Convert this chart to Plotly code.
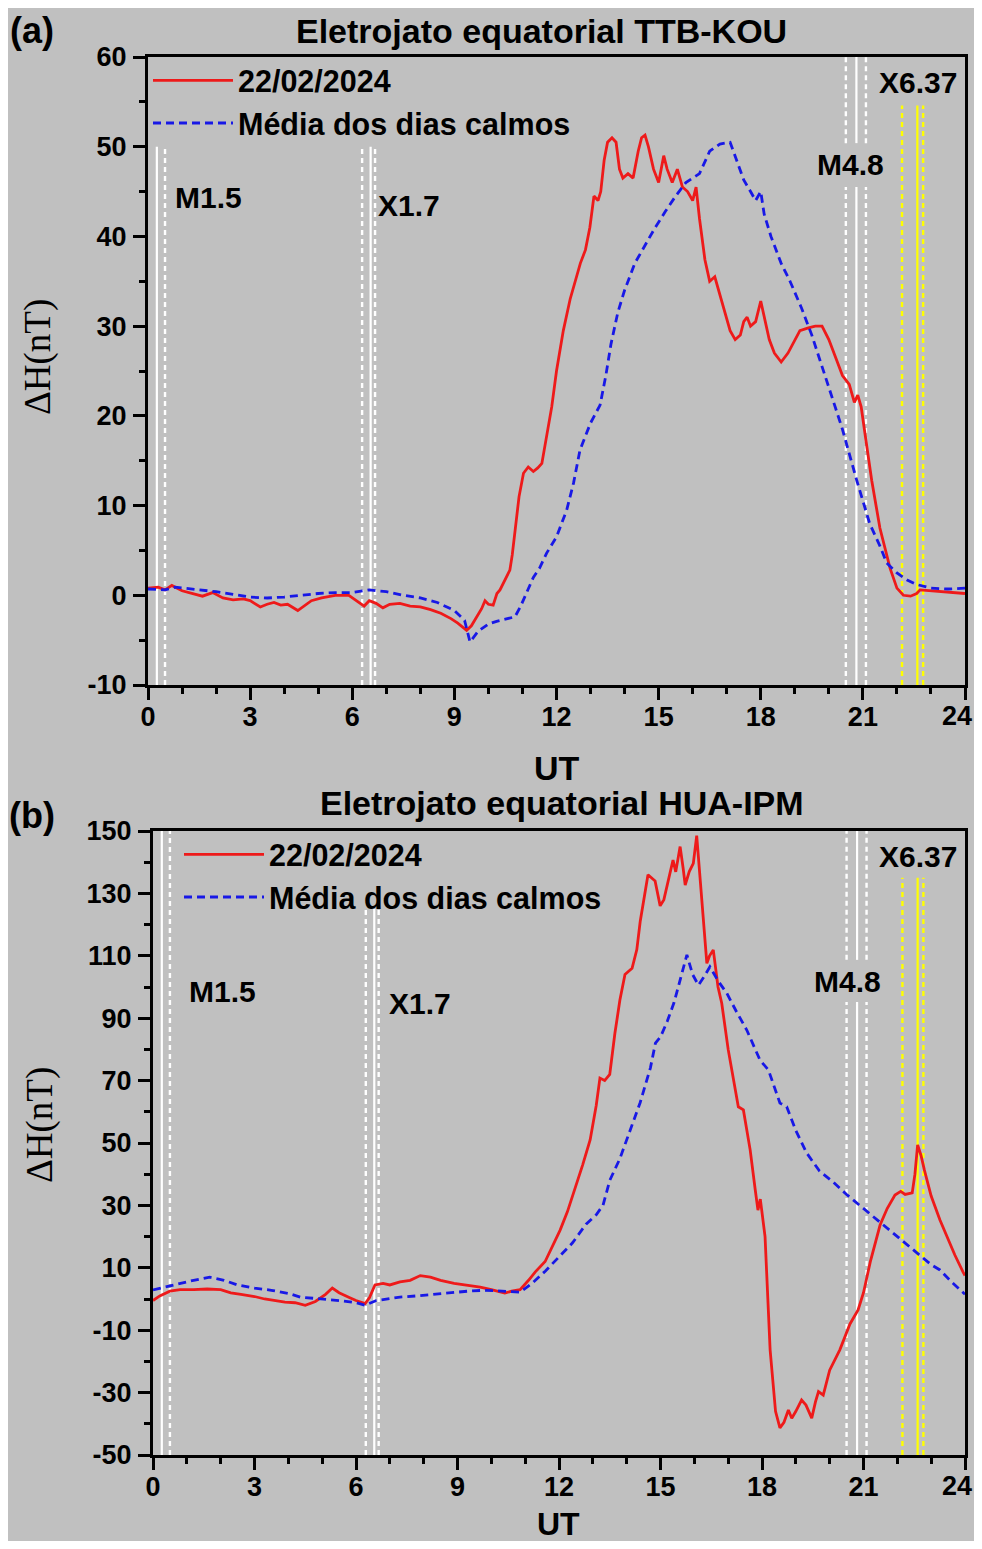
import plotly.graph_objects as go

# ---------------- DATA ----------------
# Panel (a) TTB-KOU, 22/02/2024
hours_day_a = [0.0, 0.3, 0.5, 0.7, 1.0, 1.3, 1.6, 1.9, 2.2, 2.5, 2.8, 3.0, 3.3, 3.5, 3.7, 3.9, 4.1, 4.4, 4.6, 4.8,
               5.1, 5.5, 5.9, 6.1, 6.35, 6.5, 6.7, 6.9, 7.1, 7.4, 7.7, 8.0, 8.3, 8.6, 8.9, 9.1, 9.36, 9.5, 9.66, 9.8,
               9.9, 10.0, 10.14, 10.25, 10.34, 10.5, 10.63, 10.7, 10.78, 10.9, 11.03, 11.17, 11.32, 11.45, 11.57, 11.71, 11.86, 12.0, 12.2, 12.4,
               12.54, 12.7, 12.85, 12.98, 13.1, 13.22, 13.3, 13.4, 13.5, 13.63, 13.75, 13.85, 13.95, 14.1, 14.25, 14.4, 14.5, 14.6, 14.7, 14.85,
               15.0, 15.15, 15.25, 15.4, 15.55, 15.7, 15.85, 16.0, 16.1, 16.2, 16.36, 16.5, 16.65, 16.8, 16.95, 17.1, 17.25, 17.4, 17.5, 17.6,
               17.7, 17.85, 18.0, 18.1, 18.25, 18.4, 18.6, 18.8, 19.0, 19.15, 19.4, 19.6, 19.8, 20.0, 20.2, 20.4, 20.6, 20.75, 20.85, 20.95,
               21.1, 21.26, 21.5, 21.8, 22.0, 22.19, 22.4, 22.58, 22.68, 23.0, 23.5, 23.95, 24.0]
dH_day_a = [0.8, 0.9, 0.6, 1.1, 0.5, 0.2, -0.1, 0.3, -0.3, -0.5, -0.4, -0.6, -1.3, -1.0, -0.8, -1.1, -1.0, -1.7, -1.1, -0.6,
            -0.3, 0.0, 0.0, -0.5, -1.2, -0.6, -0.9, -1.4, -1.0, -0.9, -1.2, -1.3, -1.6, -2.0, -2.6, -3.1, -3.9, -3.4, -2.4, -1.5,
            -0.6, -1.0, -1.1, 0.2, 0.6, 1.8, 2.8, 4.5, 6.9, 11.0, 13.6, 14.3, 13.8, 14.2, 14.7, 17.7, 21.0, 25.0, 29.5, 33.0,
            35.0, 37.0, 38.5, 41.0, 44.5, 44.0, 45.0, 48.5, 50.5, 51.0, 50.5, 47.5, 46.5, 47.0, 46.5, 49.5, 51.0, 51.3, 50.0, 47.5,
            46.0, 49.0, 47.5, 46.0, 47.5, 45.5, 45.0, 44.0, 45.5, 42.0, 37.4, 35.0, 35.5, 33.5, 31.5, 29.5, 28.5, 29.0, 30.5, 31.0,
            30.0, 30.5, 32.8, 31.0, 28.5, 27.0, 26.0, 27.0, 28.5, 29.5, 29.8, 30.0, 30.0, 28.5, 26.5, 24.5, 23.5, 21.5, 22.3, 21.0,
            17.0, 12.8, 7.5, 3.0, 0.8, 0.0, -0.1, 0.2, 0.6, 0.5, 0.3, 0.2, 0.2]

hours_quiet_a = [0.0, 0.5, 0.8, 1.5, 2.0, 2.5, 3.0, 3.5, 4.0, 4.5, 5.0, 5.5, 6.0, 6.5, 7.0, 7.5, 8.0, 8.5, 9.0, 9.3,
                 9.46, 9.7, 10.0, 10.24, 10.5, 10.78, 10.95, 11.12, 11.32, 11.5, 11.71, 12.0, 12.3, 12.5, 12.69, 13.0, 13.28, 13.45, 13.6, 13.8,
                 14.0, 14.3, 14.6, 14.9, 15.2, 15.5, 15.8, 16.0, 16.2, 16.5, 16.8, 17.1, 17.3, 17.5, 17.7, 17.85, 18.0, 18.1, 18.3, 18.6,
                 18.86, 19.2, 19.5, 19.8, 20.1, 20.4, 20.82, 21.2, 21.5, 21.7, 22.0, 22.3, 22.58, 23.0, 23.5, 23.95, 24.0]
dH_quiet_a = [0.7, 0.6, 0.9, 0.6, 0.4, 0.1, -0.2, -0.3, -0.2, 0.0, 0.2, 0.3, 0.3, 0.6, 0.4, 0.0, -0.3, -0.8, -1.7, -2.8,
              -5.2, -4.0, -3.2, -2.9, -2.7, -2.4, -1.2, 0.2, 2.0, 3.0, 4.7, 6.5, 9.5, 12.5, 16.2, 19.2, 21.2, 24.5, 28.0, 31.5,
              34.0, 37.0, 39.0, 41.0, 42.8, 44.5, 46.0, 46.5, 47.0, 49.5, 50.3, 50.5, 48.5, 46.3, 45.0, 44.0, 45.0, 42.5, 40.0, 37.0,
              35.0, 32.0, 29.0, 25.5, 22.0, 18.5, 12.8, 8.0, 5.5, 3.6, 2.5, 1.7, 1.2, 0.8, 0.7, 0.8, 0.8]

# Panel (b) HUA-IPM, 22/02/2024
hours_day_b = [0.0, 0.2, 0.5, 0.8, 1.2, 1.6, 2.0, 2.3, 2.6, 3.0, 3.3, 3.6, 3.9, 4.2, 4.5, 4.8, 5.1, 5.3, 5.5, 5.8,
               6.0, 6.27, 6.4, 6.56, 6.8, 7.0, 7.3, 7.6, 7.9, 8.2, 8.5, 8.9, 9.3, 9.67, 10.0, 10.4, 10.6, 10.85, 11.1, 11.3,
               11.59, 11.8, 12.03, 12.25, 12.47, 12.7, 12.92, 13.1, 13.21, 13.35, 13.5, 13.65, 13.8, 13.95, 14.16, 14.3, 14.4, 14.63, 14.84, 14.99,
               15.1, 15.22, 15.37, 15.45, 15.58, 15.67, 15.73, 15.85, 15.97, 16.07, 16.2, 16.37, 16.45, 16.56, 16.7, 16.81, 17.0, 17.3, 17.45, 17.65,
               17.8, 17.88, 17.95, 18.09, 18.24, 18.4, 18.53, 18.65, 18.78, 18.88, 19.0, 19.17, 19.3, 19.47, 19.58, 19.67, 19.81, 20.0, 20.3, 20.6,
               20.84, 21.0, 21.2, 21.49, 21.7, 21.93, 22.1, 22.23, 22.44, 22.52, 22.6, 22.7, 22.8, 23.0, 23.26, 23.5, 23.7, 23.94, 24.0]
dH_day_b = [-0.5, 1.0, 2.5, 3.0, 3.0, 3.2, 3.0, 2.0, 1.5, 0.8, 0.0, -0.5, -1.0, -1.2, -2.0, -0.8, 1.5, 3.5, 2.0, 0.5,
            -0.5, -1.5, 0.5, 4.5, 5.0, 4.5, 5.5, 6.0, 7.5, 7.0, 6.0, 5.0, 4.5, 3.8, 3.0, 1.9, 2.5, 3.0, 6.0, 8.7,
            12.0, 17.0, 22.0, 28.0, 35.0, 43.0, 51.0, 62.0, 70.8, 70.0, 72.0, 85.0, 95.8, 104.0, 106.0, 112.0, 121.0, 136.0, 134.0, 126.0,
            128.0, 134.0, 140.7, 136.9, 145.0, 138.0, 132.7, 137.0, 139.6, 148.5, 130.0, 107.6, 110.0, 111.9, 100.0, 94.8, 80.0, 61.6, 60.6, 47.8,
            35.0, 28.5, 32.0, 20.0, -16.3, -36.0, -41.3, -39.5, -35.6, -38.2, -36.0, -32.4, -34.0, -38.2, -33.0, -29.7, -30.8, -22.8, -16.3, -8.0,
            -3.5, 2.0, 11.9, 23.7, 29.0, 33.3, 34.5, 33.5, 34.0, 40.0, 49.4, 46.0, 41.3, 33.0, 25.3, 19.0, 14.1, 8.7, 7.5]

hours_quiet_b = [0.0, 0.4, 0.8, 1.2, 1.68, 2.1, 2.5, 3.0, 3.5, 4.0, 4.35, 5.0, 5.5, 6.0, 6.27, 6.6, 7.0, 7.3, 7.8, 8.3,
                 8.78, 9.3, 9.8, 10.3, 10.85, 11.2, 11.6, 12.0, 12.4, 12.8, 13.1, 13.3, 13.5, 13.8, 14.1, 14.4, 14.7, 14.85, 15.0, 15.2,
                 15.4, 15.6, 15.78, 15.95, 16.12, 16.3, 16.46, 16.7, 16.96, 17.25, 17.55, 17.94, 18.19, 18.53, 18.73, 19.0, 19.32, 19.7, 20.1, 20.5,
                 21.0, 21.5, 22.0, 22.5, 23.0, 23.26, 23.6, 24.0]
dH_quiet_b = [2.9, 4.0, 5.0, 6.0, 7.0, 6.0, 4.5, 3.5, 2.8, 1.8, 0.6, 0.0, -0.5, -1.2, -2.0, -0.5, 0.2, 0.6, 1.0, 1.5,
              2.2, 2.5, 2.8, 2.5, 2.2, 5.0, 9.0, 13.5, 18.0, 24.0, 27.0, 30.0, 38.0, 45.0, 54.0, 63.0, 74.0, 82.0, 84.0, 89.0,
              95.0, 103.0, 110.3, 104.0, 100.6, 103.5, 106.5, 102.0, 98.0, 92.0, 86.2, 76.6, 73.4, 62.8, 61.6, 54.0, 46.8, 41.0, 37.5, 33.5,
              29.0, 24.5, 20.0, 15.5, 11.0, 9.3, 5.5, 1.5]

# Solar flares (UT hours): peak (solid line), start / end (dashed lines)
flare_names = ["M1.5", "X1.7", "M4.8", "X6.37"]
flare_peak = [0.26, 6.54, 20.81, 22.6]
flare_start = [None, 6.29, 20.5, 22.15]
flare_end = [0.5, 6.67, 21.09, 22.77]

x_ticks = [0, 3, 6, 9, 12, 15, 18, 21, 24]
y_ticks_a = [-10, 0, 10, 20, 30, 40, 50, 60]
y_ticks_b = [-50, -30, -10, 10, 30, 50, 70, 90, 110, 130, 150]

legend_day = "22/02/2024"
legend_quiet = "Média dos dias calmos"
title_a = "Eletrojato equatorial TTB-KOU"
title_b = "Eletrojato equatorial HUA-IPM"

# ---------------- STYLE ----------------
BG = "#C0C0C0"
RED = "#EE1A1A"
BLUE = "#1818E6"
WHITE = "#FFFFFF"
YELLOW = "#FFFF00"
FONT = "Liberation Sans"

# figure is placed inside the page's 8 px body margin
W, H = 966, 1533
OFF = 8


def px(xp, yp):
    """page pixel -> paper fraction"""
    return (xp - OFF) / W, 1 - (yp - OFF) / H


fig = go.Figure()

fig.add_trace(go.Scatter(x=hours_day_a, y=dH_day_a, mode="lines", name=legend_day,
                         line=dict(color=RED, width=2.8), xaxis="x", yaxis="y", legend="legend"))
fig.add_trace(go.Scatter(x=hours_quiet_a, y=dH_quiet_a, mode="lines", name=legend_quiet,
                         line=dict(color=BLUE, width=2.8, dash="8px,5px"), xaxis="x", yaxis="y", legend="legend"))
fig.add_trace(go.Scatter(x=hours_day_b, y=dH_day_b, mode="lines", name=legend_day,
                         line=dict(color=RED, width=2.8), xaxis="x2", yaxis="y2", legend="legend2"))
fig.add_trace(go.Scatter(x=hours_quiet_b, y=dH_quiet_b, mode="lines", name=legend_quiet,
                         line=dict(color=BLUE, width=2.8, dash="8px,5px"), xaxis="x2", yaxis="y2", legend="legend2"))

shapes = []


def vline(x, y0, y1, xref, yref, color, dashed):
    shapes.append(dict(type="line", xref=xref, yref=yref, x0=x, x1=x, y0=y0, y1=y1, layer="below",
                       line=dict(color=color, width=2.2 if not dashed else 2.4,
                                 dash="5px,4px" if dashed else "solid")))


def flare_lines(i, xref, yref, segments, color):
    for (y0, y1) in segments:
        vline(flare_peak[i], y0, y1, xref, yref, color, False)
        if flare_start[i] is not None:
            vline(flare_start[i], y0, y1, xref, yref, color, True)
        if flare_end[i] is not None:
            vline(flare_end[i], y0, y1, xref, yref, color, True)


# panel (a)
flare_lines(0, "x", "y", [(-10, 50)], WHITE)
flare_lines(1, "x", "y", [(-10, 50)], WHITE)
flare_lines(2, "x", "y", [(-10, 45.5), (50.4, 60)], WHITE)
flare_lines(3, "x", "y", [(-10, 54.6)], YELLOW)
# panel (b)
flare_lines(0, "x2", "y2", [(-50, 150)], WHITE)
flare_lines(1, "x2", "y2", [(-50, 125)], WHITE)
flare_lines(2, "x2", "y2", [(-50, 95.2), (108.7, 150)], WHITE)
flare_lines(3, "x2", "y2", [(-50, 135)], YELLOW)

ann = []
label_pos_a = [(1.79, 44.3), (7.67, 43.5), (20.65, 48.0), (22.62, 57.2)]
label_pos_b = [(2.04, 98.4), (7.89, 94.6), (20.54, 101.9), (22.61, 141.7)]
for i, name in enumerate(flare_names):
    ann.append(dict(x=label_pos_a[i][0], y=label_pos_a[i][1], xref="x", yref="y", text=name, showarrow=False,
                    font=dict(size=30, color="black", family=FONT, weight="bold")))
    ann.append(dict(x=label_pos_b[i][0], y=label_pos_b[i][1], xref="x2", yref="y2", text=name, showarrow=False,
                    font=dict(size=30, color="black", family=FONT, weight="bold")))

for text, (xp, yp), size in [(title_a, (541, 31), 34), (title_b, (562, 803), 34),
                             ("(a)", (32, 31), 36), ("(b)", (32, 815), 36),
                             ("UT", (557, 768), 34), ("UT", (558, 1524), 32)]:
    x, y = px(xp, yp)
    ann.append(dict(x=x, y=y, xref="paper", yref="paper", text=text, showarrow=False,
                    xanchor="center", yanchor="middle",
                    font=dict(size=size, color="black", family=FONT, weight="bold")))

for (xp, yp) in [(38, 357), (40, 1125)]:
    x, y = px(xp, yp)
    ann.append(dict(x=x, y=y, xref="paper", yref="paper", text="ΔH(nT)", showarrow=False, textangle=-90,
                    xanchor="center", yanchor="middle",
                    font=dict(size=37, color="black", family="Liberation Serif")))

TICKFONT = dict(size=27, color="black", family=FONT, weight="bold")
axis_common = dict(showline=True, linecolor="black", linewidth=3, mirror=True, ticks="outside",
                   ticklen=12, tickwidth=3, tickcolor="black", showgrid=False, zeroline=False,
                   tickfont=TICKFONT)
minor_common = dict(ticks="outside", ticklen=6, tickwidth=2.6, tickcolor="black")

# last x tick label (24) sits at the right edge: drawn as an annotation nudged inside the figure
x_ticktext = [str(v) if v != x_ticks[-1] else "" for v in x_ticks]
for xref, yp in [("x", 716), ("x2", 1486)]:
    ann.append(dict(x=x_ticks[-1], y=px(0, yp)[1], xref=xref, yref="paper", text=str(x_ticks[-1]),
                    showarrow=False, xanchor="center", yanchor="middle", xshift=-8, font=TICKFONT))

xa0, ya0 = px(148, 685)
xa1, ya1 = px(965, 57)
xb0, yb0 = px(153, 1455)
xb1, yb1 = px(965, 831)
lgx_a, lgy_a = px(148, 54)
lgx_b, lgy_b = px(179, 828)

fig.update_layout(
    width=W, height=H, margin=dict(l=0, r=0, t=0, b=0, autoexpand=False),
    paper_bgcolor=BG, plot_bgcolor=BG,
    showlegend=True,
    xaxis=dict(domain=[xa0, xa1], range=[0, 24], anchor="y", tickvals=x_ticks,
               ticktext=x_ticktext, ticklabelstandoff=-6,
               minor=dict(dtick=1, tick0=0, **minor_common), **axis_common),
    yaxis=dict(domain=[ya0, ya1], range=[-10, 60], anchor="x", tickvals=y_ticks_a,
               ticktext=[str(v) for v in y_ticks_a], ticklabelstandoff=1,
               minor=dict(dtick=5, tick0=-10, **minor_common), **axis_common),
    xaxis2=dict(domain=[xb0, xb1], range=[0, 24], anchor="y2", tickvals=x_ticks,
                ticktext=x_ticktext, ticklabelstandoff=-6,
                minor=dict(dtick=1, tick0=0, **minor_common), **axis_common),
    yaxis2=dict(domain=[yb0, yb1], range=[-50, 150], anchor="x2", tickvals=y_ticks_b,
                ticktext=[str(v) for v in y_ticks_b], ticklabelstandoff=1,
                minor=dict(dtick=10, tick0=-50, **minor_common), **axis_common),
    legend=dict(x=lgx_a, y=lgy_a, xanchor="left", yanchor="top", bgcolor="rgba(0,0,0,0)",
                itemwidth=80, tracegroupgap=0,
                font=dict(size=30.5, color="black", family=FONT, weight="bold")),
    legend2=dict(x=lgx_b, y=lgy_b, xanchor="left", yanchor="top", bgcolor="rgba(0,0,0,0)",
                 itemwidth=80, tracegroupgap=0,
                 font=dict(size=30.5, color="black", family=FONT, weight="bold")),
    shapes=shapes,
    annotations=ann,
)

fig.write_html("out.html")
